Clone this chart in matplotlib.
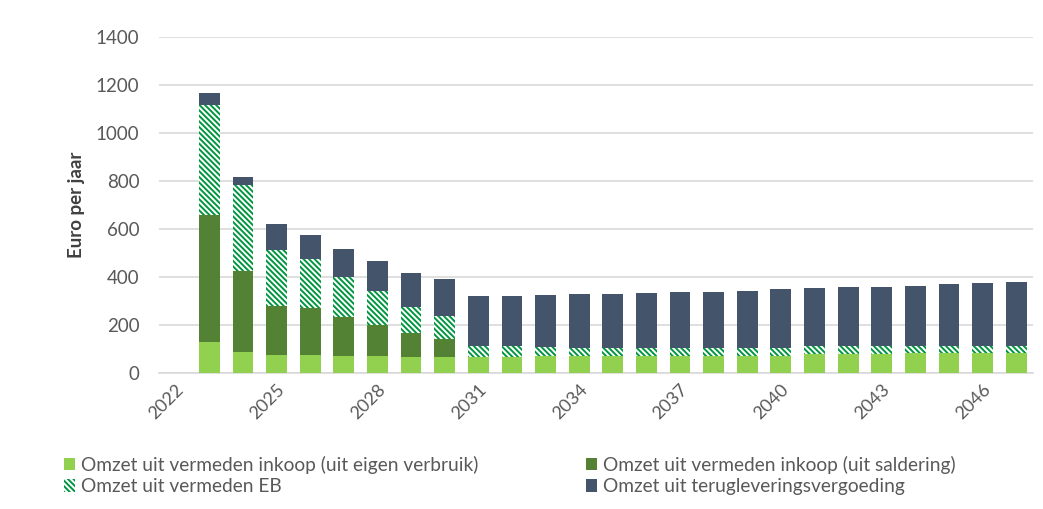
import numpy as np
import matplotlib.pyplot as plt
from matplotlib.patches import Patch

# jaren 2022..2047, 2022 is leeg
years = list(range(2022, 2048))

eigen_verbruik = [0, 130, 86, 76, 76, 72, 72, 67, 67,
                  65, 65, 70, 70, 70, 71, 72, 72, 73, 73, 79, 80, 80, 82, 84, 84, 85]
saldering = [0, 530, 341, 205, 197, 162, 129, 99, 76,
             0, 0, 0, 0, 0, 0, 0, 0, 0, 0, 0, 0, 0, 0, 0, 0, 0]
vermeden_eb = [0, 458, 357, 232, 201, 168, 141, 111, 97,
               47, 47, 37, 36, 35, 34, 33, 33, 32, 33, 33, 32, 32, 31, 30, 30, 30]
teruglevering = [0, 48, 34, 107, 103, 116, 124, 142, 154,
                 208, 208, 220, 225, 226, 230, 234, 234, 238, 243, 243, 248, 248, 252, 256, 260, 264]

labels = ["Omzet uit vermeden inkoop (uit eigen verbruik)",
          "Omzet uit vermeden inkoop (uit saldering)",
          "Omzet uit vermeden EB",
          "Omzet uit terugleveringsvergoeding"]

plt.rcParams['font.family'] = ['Lato', 'DejaVu Sans']
plt.rcParams['hatch.linewidth'] = 1.4

c_light = '#92d050'
c_dark = '#548235'
c_hatch = '#00953f'
c_blue = '#44546a'
txt = '#595959'
hatch = '\\' * 6

fig = plt.figure(figsize=(10.43, 5.09), dpi=100)
ax = fig.add_axes([0.1524, 0.267, 0.838, 0.66])

x = np.arange(len(years))
w = 0.62
light = np.array(eigen_verbruik)
dark = np.array(saldering)
eb = np.array(vermeden_eb)
blue = np.array(teruglevering)

ax.bar(x, light, w, color=c_light, zorder=3)
ax.bar(x, dark, w, bottom=light, color=c_dark, zorder=3)
ax.bar(x, eb, w, bottom=light + dark, facecolor='white', edgecolor=c_hatch,
       hatch=hatch, linewidth=0, zorder=3)
ax.bar(x, blue, w, bottom=light + dark + eb, color=c_blue, zorder=3)

ax.set_xlim(-0.5, len(years) - 0.5)
ax.set_ylim(0, 1400)
ax.set_yticks(range(0, 1401, 200))
ax.yaxis.grid(True, color='#d9d9d9', linewidth=1.2, zorder=0)
for s in ['top', 'right', 'left']:
    ax.spines[s].set_visible(False)
ax.spines['bottom'].set_color('#d9d9d9')
ax.spines['bottom'].set_linewidth(1.2)

ax.set_xticks(x[::3])
ax.set_xticklabels([str(y) for y in years[::3]], rotation=45, ha='right',
                   rotation_mode='anchor', fontsize=13, color=txt)
ax.tick_params(axis='both', length=0)
ax.tick_params(axis='x', pad=6)
ax.tick_params(axis='y', labelsize=13.5, labelcolor=txt, pad=14)
ax.set_ylabel('Euro per jaar', fontsize=13.5, fontweight='bold', color='#404040', labelpad=8)

handles = [Patch(facecolor=c_light, label=labels[0]),
           Patch(facecolor='white', edgecolor=c_hatch, hatch=hatch, linewidth=0, label=labels[2]),
           Patch(facecolor=c_dark, label=labels[1]),
           Patch(facecolor=c_blue, label=labels[3])]
fig.legend(handles=handles, ncol=2, loc='upper left', bbox_to_anchor=(0.052, 0.124),
           frameon=False, fontsize=13.8, labelcolor=txt, handlelength=0.6, handleheight=0.6,
           handletextpad=0.3, columnspacing=5.6, labelspacing=0.25, borderpad=0)

fig.savefig('out.png', dpi=100)
